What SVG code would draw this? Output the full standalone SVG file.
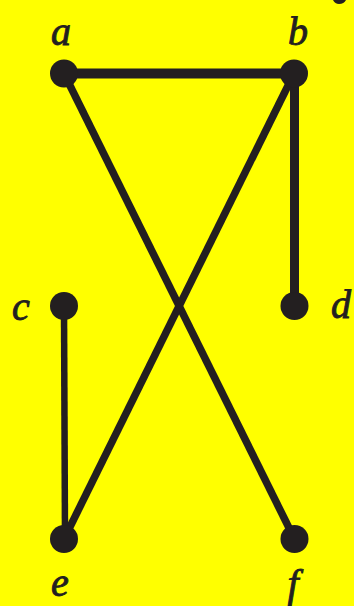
<svg xmlns="http://www.w3.org/2000/svg" width="354" height="606" viewBox="0 0 354 606">
<style>
.bg{fill:#ffff00}
.n{fill:#231f20}
.e{stroke:#231f20;fill:none;stroke-linecap:butt}
.t{font-family:"Liberation Serif","Times New Roman",serif;font-style:italic;font-size:40px;fill:#231f20;stroke:#231f20;stroke-width:0.9;text-anchor:middle}
</style>
<rect class="bg" x="0" y="0" width="354" height="606"/>
<path class="n" d="M333,0 L346,0 Q344,4 339,4 Q335,4 333,0 Z"/>
<g id="connectors">
<line class="e" x1="64" y1="73.5" x2="294" y2="73.5" stroke-width="10"/>
<line class="e" x1="64" y1="73.5" x2="294.5" y2="539" stroke-width="7.5"/>
<line class="e" x1="294" y1="73.5" x2="64" y2="539" stroke-width="7.5"/>
<line class="e" x1="294.5" y1="73.5" x2="294.5" y2="306" stroke-width="9"/>
<line class="e" x1="64" y1="306" x2="65" y2="539" stroke-width="6.5"/>
</g>
<g id="a"><circle class="n" cx="64" cy="73.5" r="14"/><text class="t" x="61" y="45">a</text></g>
<g id="b"><circle class="n" cx="294" cy="73.5" r="14"/><text class="t" x="298" y="45">b</text></g>
<g id="c"><circle class="n" cx="64" cy="306" r="14"/><text class="t" x="21" y="320">c</text></g>
<g id="d"><circle class="n" cx="294.5" cy="306" r="14"/><text class="t" x="341" y="318">d</text></g>
<g id="e"><circle class="n" cx="64" cy="539" r="14"/><text class="t" x="60" y="596">e</text></g>
<g id="f"><circle class="n" cx="294.5" cy="539" r="14"/><text class="t" x="293" y="597">f</text></g>
</svg>
